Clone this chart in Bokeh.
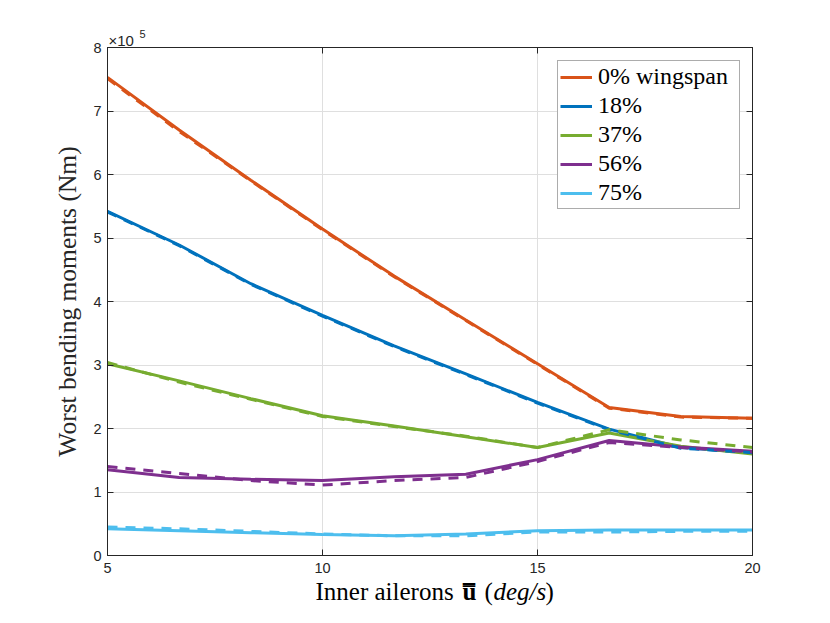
from bokeh.plotting import figure
from bokeh.models import Range1d, LinearAxis, Label, Legend, LegendItem, FixedTicker
from bokeh.embed import file_html
from bokeh.resources import INLINE

# ---- data (bending moments in units of 1e5 Nm) ----
rate = [5, 6.667, 8.333, 10, 11.667, 13.333, 15, 16.667, 18.333, 20]
series_labels = ["0% wingspan", "18%", "37%", "56%", "75%"]
colors = ["#D95319", "#0072BD", "#77AC30", "#7E2F8E", "#4DBEEE"]

m0_solid = [7.53, 6.70, 5.91, 5.14, 4.40, 3.71, 3.02, 2.33, 2.19, 2.16]
m0_dash = [7.51, 6.68, 5.90, 5.13, 4.39, 3.70, 3.01, 2.32, 2.18, 2.16]
m18_solid = [5.42, 4.89, 4.28, 3.78, 3.30, 2.86, 2.41, 1.99, 1.70, 1.62]
m18_dash = [5.41, 4.88, 4.27, 3.77, 3.29, 2.85, 2.40, 1.98, 1.69, 1.62]
m37_solid = [3.02, 2.75, 2.47, 2.20, 2.04, 1.87, 1.70, 1.93, 1.72, 1.60]
m37_dash = [3.04, 2.73, 2.46, 2.19, 2.03, 1.88, 1.70, 1.98, 1.82, 1.70]
m56_solid = [1.35, 1.23, 1.20, 1.18, 1.24, 1.28, 1.51, 1.81, 1.71, 1.64]
m56_dash = [1.40, 1.29, 1.18, 1.11, 1.18, 1.23, 1.48, 1.78, 1.70, 1.63]
m75_solid = [0.42, 0.39, 0.36, 0.33, 0.31, 0.34, 0.39, 0.40, 0.40, 0.40]
m75_dash = [0.45, 0.42, 0.38, 0.34, 0.31, 0.31, 0.37, 0.37, 0.38, 0.38]

x_ticks = [5, 10, 15, 20]
y_ticks = [0, 1, 2, 3, 4, 5, 6, 7, 8]

solid = [m0_solid, m18_solid, m37_solid, m56_solid, m75_solid]
dashed = [m0_dash, m18_dash, m37_dash, m56_dash, m75_dash]

AX = "#262626"
SERIF = "Liberation Serif"
SANS = "Liberation Sans"

p = figure(frame_width=645, frame_height=508, x_range=Range1d(5, 20), y_range=Range1d(0, 8),
           output_backend="svg", toolbar_location=None,
           min_border_left=107, min_border_right=70, min_border_top=47, min_border_bottom=60)
p.background_fill_color = "white"
p.border_fill_color = "white"
p.outline_line_color = AX
p.outline_line_width = 1

for ax in (p.xaxis[0], p.yaxis[0]):
    ax.axis_line_color = AX
    ax.major_tick_line_color = AX
    ax.major_tick_in = 6
    ax.major_tick_out = 0
    ax.minor_tick_line_color = None
    ax.major_label_text_font = SANS
    ax.major_label_text_font_size = "14.5px"
    ax.major_label_text_color = AX
p.xaxis[0].ticker = FixedTicker(ticks=x_ticks)
p.yaxis[0].ticker = FixedTicker(ticks=y_ticks)
p.xaxis[0].major_label_standoff = 7
p.yaxis[0].major_label_standoff = 6

p.yaxis[0].axis_label = "Worst bending moments (Nm)"
p.yaxis[0].axis_label_text_font = SERIF
p.yaxis[0].axis_label_text_font_style = "normal"
p.yaxis[0].axis_label_text_font_size = "25.5px"
p.yaxis[0].axis_label_text_color = AX
p.yaxis[0].axis_label_standoff = 8

# box axes (top/right) with inward ticks only
for loc in ("above", "right"):
    a = LinearAxis(ticker=FixedTicker(ticks=x_ticks if loc == "above" else y_ticks))
    a.axis_line_color = AX
    a.major_tick_line_color = AX
    a.major_tick_in = 6
    a.major_tick_out = 0
    a.minor_tick_line_color = None
    a.major_label_text_alpha = 0
    a.major_label_text_font_size = "1px"
    a.major_label_standoff = 0
    p.add_layout(a, loc)

p.xgrid.ticker = FixedTicker(ticks=x_ticks)
p.ygrid.ticker = FixedTicker(ticks=y_ticks)
p.xgrid.grid_line_color = "#dfdfdf"
p.ygrid.grid_line_color = "#dfdfdf"

items = []
for lab_, col, ys in zip(series_labels, colors, solid):
    r = p.line(rate, ys, line_color=col, line_width=3)
    items.append(LegendItem(label=lab_, renderers=[r]))
for col, ys in zip(colors, dashed):
    p.line(rate, ys, line_color=col, line_width=3, line_dash="10 8")

leg = Legend(items=items, location=(450, 346))
leg.label_text_font = SERIF
leg.label_text_font_size = "24px"
leg.label_text_color = "black"
leg.glyph_width = 32
leg.glyph_height = 22
leg.label_height = 22
leg.label_width = 139
leg.label_standoff = 6
leg.spacing = 2
leg.padding = 2
leg.margin = 0
leg.border_line_color = "#5a5a5a"
leg.border_line_width = 1
leg.background_fill_color = "white"
leg.background_fill_alpha = 1
p.add_layout(leg, "center")


# helpers: page pixel -> data coords (for label placement only)
def dx(px):
    return 5 + (px - 107) / 43.0


def dy(py):
    return (555 - py) / 63.5


def lab(text, px, py, size, side, font=SERIF, style="normal", color="black"):
    # labels live in the margin panels so they are not clipped by the frame
    p.add_layout(Label(x=dx(px), y=dy(py), text=text, text_font=font,
                       text_font_size=size, text_font_style=style, text_color=color,
                       text_align="left", text_baseline="alphabetic"), side)


# x label pieces (spread over margin panels that have room to spare)
lab("Inner ailerons", 315, 591, "25px", "below")
lab("u\u033f", 462, 591, "25px", "left", style="bold")
lab("(", 484, 591, "25px", "left")
lab("deg/s", 493, 591, "25px", "right", style="italic")
lab(")", 545, 591, "25px", "left")

# exponent
lab("\u00d710", 108, 40, "15px", "above", font=SANS, color=AX)
lab("5", 139, 33, "11px", "above", font=SANS, color=AX)

open("out.html", "w").write(file_html(p, INLINE))
